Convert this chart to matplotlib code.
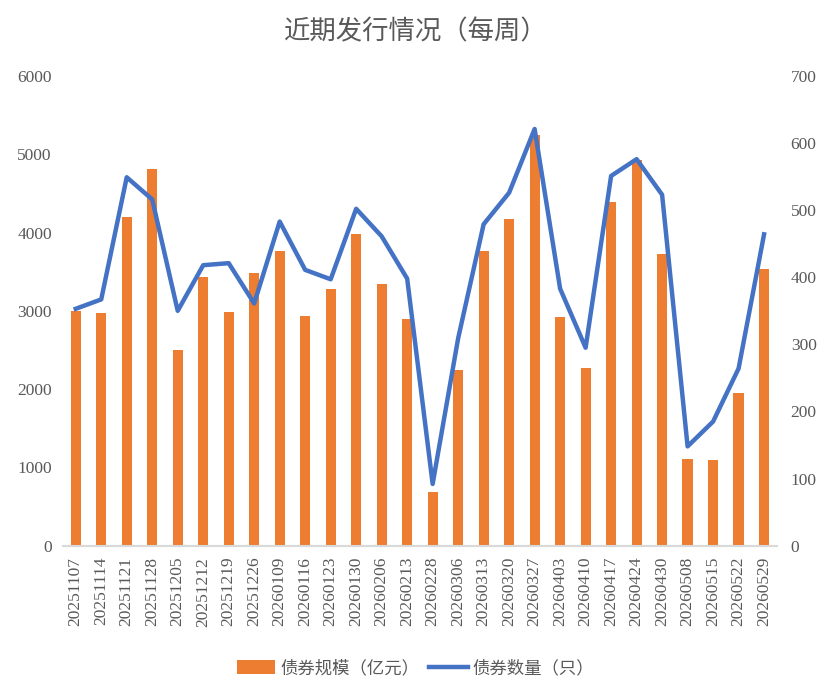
import matplotlib
matplotlib.use("Agg")
import matplotlib.pyplot as plt
import numpy as np
from matplotlib.patches import Patch
from matplotlib.lines import Line2D

dates = ["20251107", "20251114", "20251121", "20251128", "20251205", "20251212",
         "20251219", "20251226", "20260109", "20260116", "20260123", "20260130",
         "20260206", "20260213", "20260228", "20260306", "20260313", "20260320",
         "20260327", "20260403", "20260410", "20260417", "20260424", "20260430",
         "20260508", "20260515", "20260522", "20260529"]
scale_bn = [2995, 2970, 4200, 4810, 2495, 3430, 2980, 3480, 3760, 2930, 3275, 3980,
            3340, 2890, 690, 2250, 3760, 4170, 5245, 2915, 2265, 4390, 4925, 3725,
            1113, 1100, 1945, 3530]
count = [353, 367, 549, 516, 350, 418, 421, 361, 483, 411, 397, 502,
         461, 398, 92, 309, 479, 526, 621, 383, 295, 551, 576, 523,
         148, 185, 264, 464]

left_ticks = [0, 1000, 2000, 3000, 4000, 5000, 6000]
right_ticks = [0, 100, 200, 300, 400, 500, 600, 700]

bar_color = "#ED7D31"
line_color = "#4472C4"
text_color = "#595959"
num_font = ["Liberation Serif", "DejaVu Serif"]
cjk_font = ["Noto Sans CJK SC", "DejaVu Sans"]

fig = plt.figure(figsize=(8.31, 6.98), dpi=100)
ax = fig.add_axes([0.0758, 0.2182, 0.859, 0.673])
x = np.arange(len(dates))
ax.bar(x, scale_bn, width=0.4, color=bar_color, zorder=2)
ax.set_ylim(0, 6000)
ax.set_xlim(-0.5, len(dates) - 0.5)
ax.set_yticks(left_ticks)
ax.set_yticklabels([str(t) for t in left_ticks], family=num_font, fontsize=12.5, color=text_color)
ax.set_xticks(x)
ax.set_xticklabels(dates, rotation=90, family=num_font, fontsize=12.5, color=text_color)
ax.tick_params(axis="both", length=0, pad=8)
ax.tick_params(axis="x", pad=8)
for s in ["top", "right", "left"]:
    ax.spines[s].set_visible(False)
ax.spines["bottom"].set_color("#D9D9D9")
ax.spines["bottom"].set_linewidth(1.5)

ax2 = ax.twinx()
ax2.plot(x, count, color=line_color, linewidth=3.2, solid_joinstyle="round", zorder=3)
ax2.set_ylim(0, 700)
ax2.set_yticks(right_ticks)
ax2.set_yticklabels([str(t) for t in right_ticks], family=num_font, fontsize=12.5, color=text_color)
ax2.tick_params(axis="y", length=0, pad=10)
for s in ["top", "right", "left", "bottom"]:
    ax2.spines[s].set_visible(False)

fig.text(0.5, 0.955, "近期发行情况（每周）", ha="center", va="center",
         family=cjk_font, fontsize=19, color=text_color)

handles = [Patch(facecolor=bar_color, edgecolor="none"),
           Line2D([0], [0], color=line_color, linewidth=3.2)]
leg = fig.legend(handles, ["债券规模（亿元）", "债券数量（只）"], loc="center",
                 bbox_to_anchor=(0.5, 0.043), ncol=2, frameon=False,
                 prop={"family": cjk_font, "size": 12.5}, handlelength=2.2,
                 handleheight=0.8, columnspacing=0.6, handletextpad=0.3)
for t in leg.get_texts():
    t.set_color(text_color)

fig.savefig("out.png", dpi=100)
